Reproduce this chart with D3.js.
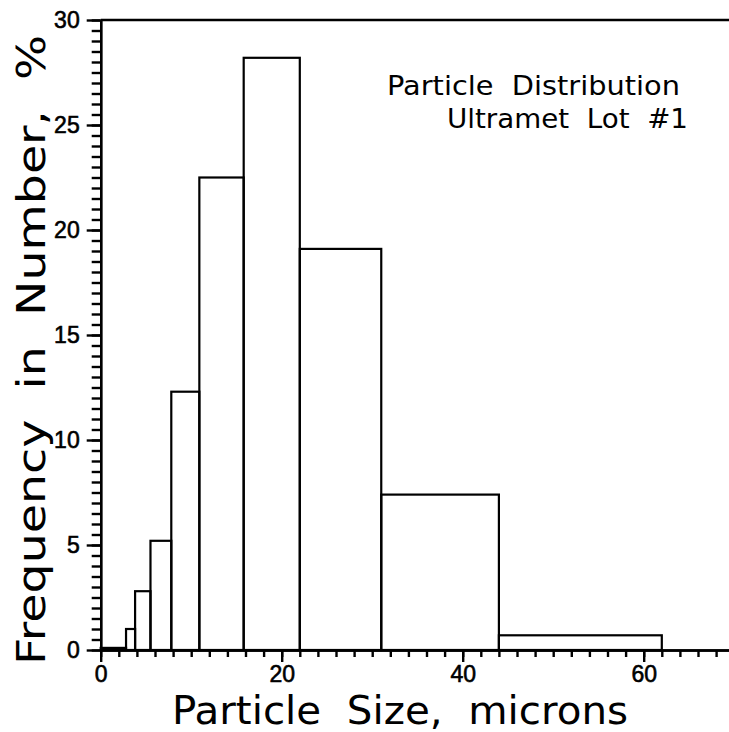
<!DOCTYPE html>
<html>
<head>
<meta charset="utf-8">
<script src="https://cdn.jsdelivr.net/npm/d3@7"></script>
<style>
  body { margin: 0; background: #fff; }
  svg { display: block; }
  .axis path, .axis line { stroke: #000; stroke-width: 2.4; }
  .axis text { font-family: "Liberation Sans", Arial, sans-serif; font-size: 23px; fill: #000; stroke: #000; stroke-width: 0.6; }
</style>
</head>
<body>
<div id="chart"></div>
<script>
// bin edges in microns, and frequency (%) of each bin
const binEdges = [0, 2.8, 3.8, 5.5, 7.8, 10.9, 15.8, 22, 31, 44, 62];
const frequency = [0.1, 1.0, 2.8, 5.2, 12.3, 22.5, 28.2, 19.1, 7.4, 0.7];
const xMajorTicks = [0, 20, 40, 60];
const yMajorTicks = [0, 5, 10, 15, 20, 25, 30];
const noteLines = ['Particle Distribution', 'Ultramet Lot #1'];

const width = 729;
const height = 732;

const svg = d3.select('#chart').append('svg')
    .attr('width', width)
    .attr('height', height);

// Scales
const x = d3.scaleLinear().domain([0, 70]).range([100.7, 734.2]);
const y = d3.scaleLinear().domain([0, 30]).range([650, 20]);

// Bars
const bins = frequency.map((f, i) => ({ x0: binEdges[i], x1: binEdges[i + 1], f: f }));
svg.append('g').selectAll('rect')
    .data(bins)
    .join('rect')
    .attr('x', d => x(d.x0))
    .attr('y', d => y(d.f))
    .attr('width', d => x(d.x1) - x(d.x0))
    .attr('height', d => y(0) - y(d.f))
    .attr('fill', 'none')
    .attr('stroke', '#000')
    .attr('stroke-width', 2.2);

// top frame line
svg.append('line')
    .attr('x1', x(0)).attr('x2', width)
    .attr('y1', y(30)).attr('y2', y(30))
    .attr('stroke', '#000').attr('stroke-width', 2.4);

// Axes - minor ticks first, then labelled majors
const xMinor = d3.range(0, 71, 2);
svg.append('g').attr('class', 'axis')
    .attr('transform', 'translate(0,' + y(0) + ')')
    .call(d3.axisBottom(x).tickValues(xMinor).tickSize(7).tickSizeOuter(0).tickFormat(''));
svg.append('g').attr('class', 'axis')
    .attr('transform', 'translate(0,' + y(0) + ')')
    .call(d3.axisBottom(x).tickValues(xMajorTicks).tickSize(12).tickSizeOuter(0).tickPadding(4));

const yMinor = d3.range(0, 30.01, 0.5);
svg.append('g').attr('class', 'axis')
    .attr('transform', 'translate(' + x(0) + ',0)')
    .call(d3.axisLeft(y).tickValues(yMinor).tickSize(9).tickSizeOuter(0).tickFormat(''));
svg.append('g').attr('class', 'axis')
    .attr('transform', 'translate(' + x(0) + ',0)')
    .call(d3.axisLeft(y).tickValues(yMajorTicks).tickSize(14).tickSizeOuter(0).tickPadding(7));

// Axis titles
const titleFont = '"DejaVu Sans", "Liberation Sans", sans-serif';
svg.append('text')
    .attr('x', 172).attr('y', 724)
    .attr('font-family', titleFont)
    .attr('font-size', 39)
    .attr('textLength', 456)
    .attr('lengthAdjust', 'spacingAndGlyphs')
    .style('white-space', 'pre')
    .text('Particle  Size,  microns');

svg.append('text')
    .attr('transform', 'translate(45,665) rotate(-90)')
    .attr('font-family', titleFont)
    .attr('font-size', 39)
    .attr('textLength', 630)
    .attr('lengthAdjust', 'spacingAndGlyphs')
    .style('white-space', 'pre')
    .text('Frequency  in  Number,  %');

// Note in the upper right
svg.append('text')
    .attr('x', 387).attr('y', 95)
    .attr('font-family', titleFont)
    .attr('font-size', 27)
    .attr('textLength', 293)
    .attr('lengthAdjust', 'spacingAndGlyphs')
    .style('white-space', 'pre')
    .text(noteLines[0].replace(' ', '  '));
svg.append('text')
    .attr('x', 447).attr('y', 128)
    .attr('font-family', titleFont)
    .attr('font-size', 27)
    .attr('textLength', 241)
    .attr('lengthAdjust', 'spacingAndGlyphs')
    .style('white-space', 'pre')
    .text(noteLines[1].split(' ').join('  '));
</script>
</body>
</html>
